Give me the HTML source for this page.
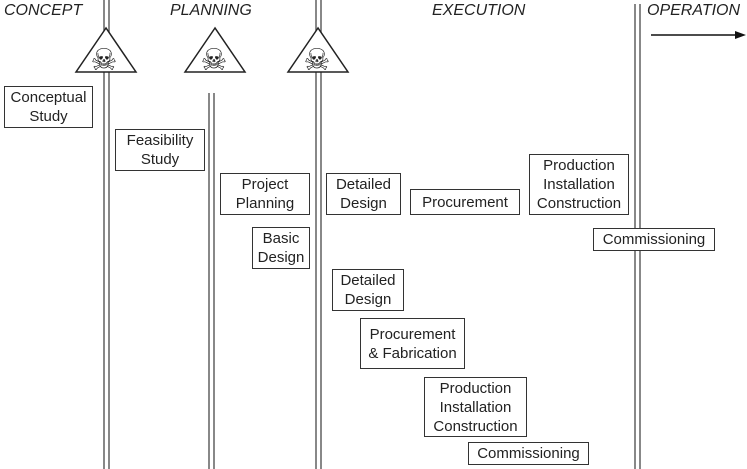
<!DOCTYPE html>
<html><head><meta charset="utf-8"><style>
html,body{margin:0;padding:0;background:#fff;}
body{width:747px;height:469px;position:relative;overflow:hidden;font-family:"Liberation Sans",sans-serif;color:#222;}
.b{position:absolute;border:1.3px solid #333;box-sizing:border-box;background:#fff;text-align:center;font-size:15px;line-height:19px;display:flex;align-items:center;justify-content:center;}
.h{position:absolute;font-style:italic;font-size:16px;top:2px;color:#222;}
</style></head><body>
<svg width="747" height="469" style="position:absolute;left:0;top:0">
<g stroke="#555" stroke-width="1.4">
<line x1="104" y1="0" x2="104" y2="469"/><line x1="109" y1="0" x2="109" y2="469"/>
<line x1="209" y1="93" x2="209" y2="469"/><line x1="214" y1="93" x2="214" y2="469"/>
<line x1="316" y1="0" x2="316" y2="469"/><line x1="321" y1="0" x2="321" y2="469"/>
<line x1="635" y1="4" x2="635" y2="469"/><line x1="640" y1="4" x2="640" y2="469"/>
</g>
<g fill="#fff" stroke="#222" stroke-width="1.5" stroke-linejoin="miter">
<polygon points="106,28 76,72 136,72"/>
<polygon points="215,28 185,72 245,72"/>
<polygon points="318,28 288,72 348,72"/>
</g>
<g font-family="DejaVu Sans" font-size="30" text-anchor="middle" fill="#222">
<text x="104" y="70">☠</text><text x="214" y="70">☠</text><text x="317" y="70">☠</text>
</g>
<line x1="651" y1="35" x2="738" y2="35" stroke="#111" stroke-width="1.6"/>
<polygon points="746,35 735,31 735,39" fill="#111"/>
</svg>
<div class="h" style="left:4px">CONCEPT</div>
<div class="h" style="left:170px">PLANNING</div>
<div class="h" style="left:432px">EXECUTION</div>
<div class="h" style="left:647px">OPERATION</div>
<div class="b" style="left:4px;top:86px;width:89px;height:42px">Conceptual<br>Study</div>
<div class="b" style="left:115px;top:129px;width:90px;height:42px">Feasibility<br>Study</div>
<div class="b" style="left:220px;top:173px;width:90px;height:42px">Project<br>Planning</div>
<div class="b" style="left:252px;top:227px;width:58px;height:42px">Basic<br>Design</div>
<div class="b" style="left:326px;top:173px;width:75px;height:42px">Detailed<br>Design</div>
<div class="b" style="left:410px;top:189px;width:110px;height:26px">Procurement</div>
<div class="b" style="left:529px;top:154px;width:100px;height:61px">Production<br>Installation<br>Construction</div>
<div class="b" style="left:593px;top:228px;width:122px;height:23px">Commissioning</div>
<div class="b" style="left:332px;top:269px;width:72px;height:42px">Detailed<br>Design</div>
<div class="b" style="left:360px;top:318px;width:105px;height:51px">Procurement<br>&amp; Fabrication</div>
<div class="b" style="left:424px;top:377px;width:103px;height:60px">Production<br>Installation<br>Construction</div>
<div class="b" style="left:468px;top:442px;width:121px;height:23px">Commissioning</div>
</body></html>
